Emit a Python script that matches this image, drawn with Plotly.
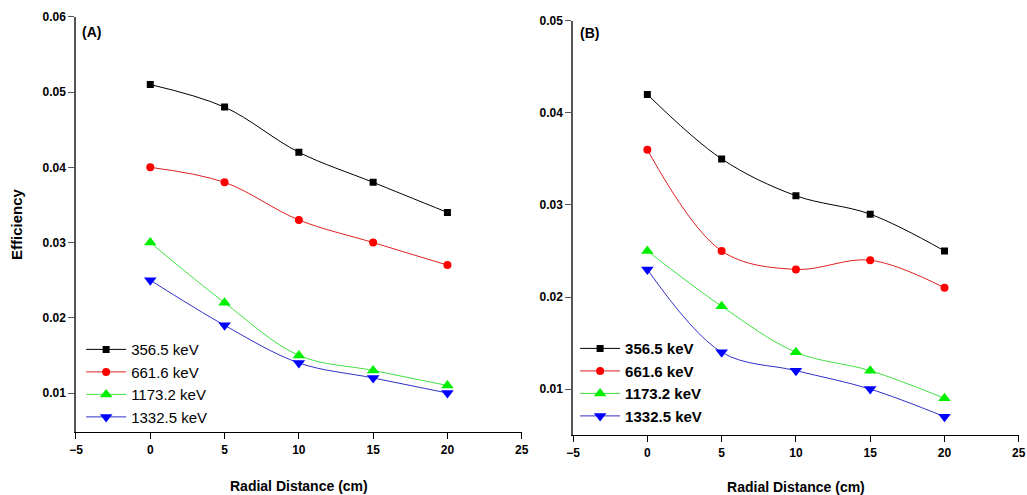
import plotly.graph_objects as go

# radial distance (cm)
distance = [0, 5, 10, 15, 20]

energies = ['356.5 keV', '661.6 keV', '1173.2 keV', '1332.5 keV']

# panel (A) efficiencies
eff_a_356 = [0.051, 0.048, 0.042, 0.038, 0.034]
eff_a_661 = [0.040, 0.038, 0.033, 0.030, 0.027]
eff_a_1173 = [0.030, 0.022, 0.015, 0.013, 0.011]
eff_a_1332 = [0.025, 0.019, 0.014, 0.012, 0.010]

# panel (B) efficiencies
eff_b_356 = [0.042, 0.035, 0.031, 0.029, 0.025]
eff_b_661 = [0.036, 0.025, 0.023, 0.024, 0.021]
eff_b_1173 = [0.025, 0.019, 0.014, 0.012, 0.009]
eff_b_1332 = [0.023, 0.014, 0.012, 0.010, 0.007]

x_ticks = [-5, 0, 5, 10, 15, 20, 25]

line_colors = ['#000000', '#e02020', '#40e040', '#3030c8']
marker_colors = ['#000000', '#ff0000', '#00ee00', '#0000ff']
symbols = ['square', 'circle', 'triangle-up', 'triangle-down']
marker_sizes = [7, 8, 11, 11]
FONT = 'Liberation Sans, Arial, sans-serif'

fig = go.Figure()

panels = [
    ([eff_a_356, eff_a_661, eff_a_1173, eff_a_1332], 'x', 'y', 'legend'),
    ([eff_b_356, eff_b_661, eff_b_1173, eff_b_1332], 'x2', 'y2', 'legend2'),
]
for series, xa, ya, leg in panels:
    for i, vals in enumerate(series):
        fig.add_trace(go.Scatter(
            x=distance, y=vals, name=energies[i], mode='lines+markers',
            xaxis=xa, yaxis=ya, legend=leg,
            line=dict(color=line_colors[i], width=1, shape='spline', smoothing=1.0),
            marker=dict(symbol=symbols[i], color=marker_colors[i], size=marker_sizes[i]),
        ))

axis_font = dict(family=FONT, size=12, color='black', weight='bold')
common_x = dict(range=[-5, 25], tickvals=x_ticks, showline=True, linecolor='black',
                linewidth=1, ticks='outside', ticklen=6, tickcolor='black',
                showgrid=False, zeroline=False, tickfont=axis_font, automargin=False,
                title=dict(text='Radial Distance (cm)',
                           font=dict(family=FONT, size=14, color='black', weight='bold'),
                           standoff=25))
common_y = dict(showline=True, linecolor='#555555', linewidth=1.5, ticks='outside',
                ticklen=6, tickcolor='#555555', showgrid=False, zeroline=False,
                tickfont=axis_font, tickformat='.2f', automargin=False)

fig.update_layout(
    width=1027, height=495,
    paper_bgcolor='white', plot_bgcolor='white',
    margin=dict(l=0, r=0, t=0, b=0, autoexpand=False),
    xaxis=dict(domain=[0.074, 0.508], anchor='y', **common_x),
    yaxis=dict(domain=[0.127, 0.966], anchor='x', range=[0.0048, 0.06],
               tickvals=[0.01, 0.02, 0.03, 0.04, 0.05, 0.06],
               title=dict(text='Efficiency',
                          font=dict(family=FONT, size=15, color='black', weight='bold'),
                          standoff=16),
               **common_y),
    xaxis2=dict(domain=[0.558, 0.992], anchor='y2', **common_x),
    yaxis2=dict(domain=[0.121, 0.958], anchor='x2', range=[0.005, 0.05],
                tickvals=[0.01, 0.02, 0.03, 0.04, 0.05], **common_y),
    legend=dict(x=0.079, y=0.327, xanchor='left', yanchor='top',
                bgcolor='rgba(0,0,0,0)', tracegroupgap=0, itemwidth=40,
                font=dict(family=FONT, size=15, color='black')),
    legend2=dict(x=0.560, y=0.329, xanchor='left', yanchor='top',
                 bgcolor='rgba(0,0,0,0)', tracegroupgap=0, itemwidth=40,
                 font=dict(family=FONT, size=15, color='black', weight='bold')),
    annotations=[
        dict(text='(A)', x=0.078, y=0.956, xref='paper', yref='paper',
             xanchor='left', yanchor='top', showarrow=False,
             font=dict(family=FONT, size=14, color='black', weight='bold')),
        dict(text='(B)', x=0.563, y=0.953, xref='paper', yref='paper',
             xanchor='left', yanchor='top', showarrow=False,
             font=dict(family=FONT, size=14, color='black', weight='bold')),
    ],
)

# drop the default page margin so the figure sits at the window's corner
fig.write_html('out.html', config={'displayModeBar': False},
               post_script="document.body.style.margin='0';document.body.style.overflow='hidden';")
